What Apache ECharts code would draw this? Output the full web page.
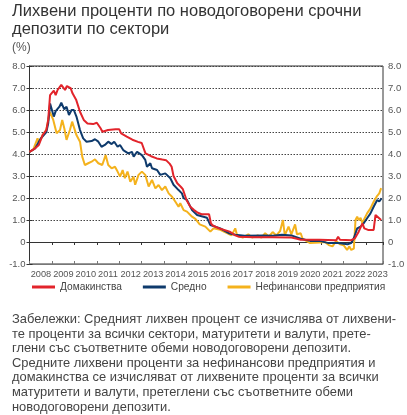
<!DOCTYPE html>
<html><head><meta charset="utf-8">
<script src="https://cdn.jsdelivr.net/npm/echarts@6/dist/echarts.min.js"></script>
<style>html,body{margin:0;padding:0;background:#fff}#c{width:407px;height:415px}</style>
</head><body><div id="c"></div><script>
const titleLines = ['Лихвени проценти по новодоговорени срочни', 'депозити по сектори'];
const unitLabel = '(%)';
const seriesNames = ['Домакинства', 'Средно', 'Нефинансови предприятия'];
const seriesColors = ['#e2242b', '#0e3a6c', '#f4b21d'];
const startYear = 2008;
const noteLines = [
  'Забележки: Средният лихвен процент се изчислява от лихвени-',
  'те проценти за всички сектори, матуритети и валути, прете-',
  'глени със съответните обеми новодоговорени депозити.',
  'Средните лихвени проценти за нефинансови предприятия и',
  'домакинства се изчисляват от лихвените проценти за всички',
  'матуритети и валути, претеглени със съответните обеми',
  'новодоговорени депозити.'
];

// months counted from January 2008
const hhMonths = [0,3,5,7,9,10,11,13,14,15,17,18,19,20,22,23,25,27,29,31,34,36,38,39,42,46,48,49,52,55,58,60,62,65,68,71,73,75,76,77,79,81,82,84,86,88,90,92,96,97,98,102,107,110,112,120,130,140,143,145,155,164,165,166,172,174,176,178,179,181,182,184,185,186,188];
const hhValues = [4.1,4.26,4.41,4.86,5.09,5.55,6.68,6.88,6.68,6.91,7.14,7.06,6.91,7.09,6.99,6.76,6.45,5.92,5.55,5.39,5.36,5.42,5.17,5.01,5.09,5.12,5.12,4.94,4.79,4.65,4.55,4.5,4.03,3.9,3.8,3.75,3.72,3.55,3.42,3.0,2.67,2.5,2.4,1.9,1.6,1.45,1.33,1.26,1.26,0.85,0.75,0.6,0.47,0.3,0.24,0.22,0.22,0.2,0.15,0.1,0.1,0.08,0.24,0.1,0.08,0.17,0.47,0.85,0.62,0.55,0.47,0.55,1.23,1.16,1.0];

const avgMonths = [0,3,6,9,10,11,12,13,14,16,17,18.6,19.8,21.1,22.5,23.7,25.1,27,28.7,30.5,33.2,35,36.8,38.5,40.3,42.1,43.9,45.3,47.1,48.4,50.1,52.8,54.8,55.7,57.5,60.1,61.9,62.8,64.6,65.5,68.2,69.9,72.6,75.3,77,79.7,81.5,82.4,84.2,86.9,89.6,94.9,96.7,102,106.5,110,115,125,130,135,136,140,145,150,155,160,165,170,172,173.4,175.2,177,178.7,180.5,182.3,184,185.9,187,188.2];
const avgValues = [4.1,4.25,4.7,5.0,5.4,6.3,6.33,5.7,5.95,6.15,6.33,6.03,6.15,5.77,6.0,6.0,5.7,5.09,4.71,4.56,4.59,4.67,4.56,4.33,4.41,4.56,4.45,4.56,4.33,4.41,4.18,4.03,4.1,3.88,4.1,3.95,3.73,3.42,3.58,3.35,3.27,3.05,3.12,2.9,2.6,2.36,2.21,1.99,1.91,1.45,1.23,1.1,0.77,0.62,0.4,0.33,0.28,0.3,0.28,0.33,0.25,0.3,0.15,0.05,0.05,-0.05,-0.05,-0.1,-0.05,0.17,0.62,0.7,0.85,1.08,1.3,1.6,1.91,1.84,1.98];

const nfcMonths = [0,2,4.3,5,7,9,10.9,11.8,12.7,14.5,16.3,17.5,18.6,19.8,21.6,22.8,23.7,25.1,27,28.2,29.6,31.4,33.2,35,36.8,38.9,40.7,42.1,43.9,45.7,47.1,48.4,49.8,51,52.4,53.9,55.6,56.5,58.3,60.1,61.9,63.7,65.5,67.3,69,70.8,72.6,74.4,76.2,78,79.7,80.6,82.4,84.2,86.9,88.7,91,94,96.7,98.4,102,105.6,108,110,111,114,117,119,122,124,126,128,130,132,134,135.5,136.5,138.5,140,142,143,145,146,148,150,155,158,160,162,164,166,168,169.8,171,172,173.4,174.3,175.2,176,177,178,179,180.5,182.3,184,185.9,187,188];
const nfcValues = [4.1,4.2,4.71,4.5,4.86,5.09,5.92,6.0,5.55,4.94,5.09,5.55,5.17,4.64,5.09,5.47,5.39,4.86,4.56,3.88,3.5,3.58,3.65,3.76,3.58,3.5,3.95,3.5,3.35,3.42,3.2,2.97,3.27,2.9,3.2,2.74,2.97,2.6,3.05,3.2,3.05,2.52,2.82,2.44,2.59,2.36,2.52,2.21,2.06,1.83,1.6,1.76,1.45,1.38,1.15,1.05,0.8,0.7,0.47,0.62,0.55,0.4,0.3,0.62,0.3,0.2,0.35,0.2,0.3,0.2,0.4,0.25,0.45,0.3,0.5,1.0,0.3,0.7,0.35,0.8,0.35,0.4,0.15,0.05,-0.05,-0.02,0.0,-0.14,-0.2,0.05,-0.1,-0.15,-0.36,-0.2,-0.36,-0.3,1.0,1.15,1.0,1.1,0.85,1.05,1.3,1.53,1.83,2.1,2.21,2.45];

const axisMonths = 189;
const yMin = -1, yMax = 8;

const pair = (ms, vs) => ms.map((m, i) => [m, vs[i]]);
const base = '"Liberation Sans", Arial, sans-serif';
const yLabelFmt = v => v === 0 ? '0' : v.toFixed(1);

const chart = echarts.init(document.getElementById('c'), null, {renderer: 'canvas'});
chart.setOption({
  animation: false,
  backgroundColor: '#fff',
  title: {
    text: titleLines.join('\n'), left: 12, top: 2, padding: 0,
    textStyle: {fontFamily: base, fontSize: 16.5, fontWeight: 'normal', color: '#333', lineHeight: 18.5}
  },
  graphic: [
    {type: 'text', left: 12, top: 42, style: {text: unitLabel, font: '12px ' + base, fill: '#555'}}
  ].concat(noteLines.map((t, i) => ({
    type: 'text', left: 12, top: 313 + i * 14.6,
    style: {text: t, font: '12.9px ' + base, fill: '#444'}
  }))),
  legend: {
    data: seriesNames, left: 27, top: 277, icon: 'rect', itemWidth: 23, itemHeight: 3, itemGap: 21,
    textStyle: {fontFamily: base, fontSize: 10.2, color: '#444'}
  },
  grid: {left: 29.5, right: 24, top: 66, bottom: 151, outerBoundsMode: 'none', containLabel: false,
         show: true, borderColor: '#333', borderWidth: 1, backgroundColor: 'transparent'},
  xAxis: [
    {
      type: 'value', min: 0, max: axisMonths, interval: 12, position: 'bottom',
      axisLine: {show: true, onZero: false, lineStyle: {color: '#777', width: 1}},
      axisTick: {show: true, inside: true, length: 3, lineStyle: {color: '#777'}},
      axisLabel: {
        show: true, margin: 6, align: 'left', padding: [0, 0, 0, 1.2], color: '#555',
        showMinLabel: true, hideOverlap: false, fontFamily: base, fontSize: 9.2,
        formatter: v => (v % 12 === 0 && v < axisMonths - 6) ? String(startYear + v / 12) : ''
      },
      splitLine: {show: false}
    },
    {
      type: 'value', min: 0, max: axisMonths, interval: 12, position: 'top',
      axisLine: {show: true, onZero: true, lineStyle: {color: '#333', width: 1}},
      axisTick: {show: true, inside: true, length: 3, lineStyle: {color: '#333'}},
      axisLabel: {show: false},
      splitLine: {show: false}
    }
  ],
  yAxis: [
    {
      type: 'value', min: yMin, max: yMax, interval: 1, position: 'left',
      axisLine: {show: true, lineStyle: {color: '#333'}},
      axisTick: {show: true, length: 3, lineStyle: {color: '#333'}},
      axisLabel: {margin: 4, color: '#555', fontFamily: base, fontSize: 9.5, formatter: yLabelFmt},
      splitLine: {show: true, lineStyle: {color: '#444', type: [1.5, 1.5], width: 1}}
    },
    {
      type: 'value', min: yMin, max: yMax, interval: 1, position: 'right',
      axisLine: {show: true, lineStyle: {color: '#333'}},
      axisTick: {show: true, length: 3, lineStyle: {color: '#333'}},
      axisLabel: {margin: 5, color: '#555', fontFamily: base, fontSize: 9.5, formatter: yLabelFmt},
      splitLine: {show: false}
    }
  ],
  series: [
    {name: seriesNames[0], type: 'line', data: pair(hhMonths, hhValues), showSymbol: false, z: 5,
     lineStyle: {width: 2, color: seriesColors[0]}, itemStyle: {color: seriesColors[0]}},
    {name: seriesNames[1], type: 'line', data: pair(avgMonths, avgValues), showSymbol: false, z: 4,
     lineStyle: {width: 2, color: seriesColors[1]}, itemStyle: {color: seriesColors[1]}},
    {name: seriesNames[2], type: 'line', data: pair(nfcMonths, nfcValues), showSymbol: false, z: 3,
     lineStyle: {width: 2, color: seriesColors[2]}, itemStyle: {color: seriesColors[2]}}
  ]
});
</script></body></html>
